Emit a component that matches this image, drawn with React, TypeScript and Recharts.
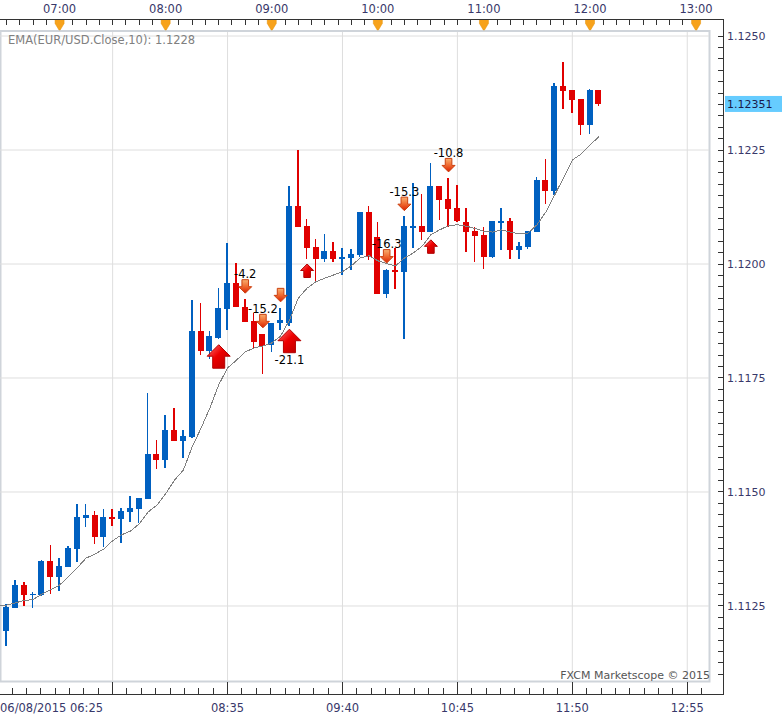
import React from "react";
import {
  ComposedChart,
  Bar,
  Line,
  Scatter,
  XAxis,
  YAxis,
  CartesianGrid,
  ReferenceLine,
} from "recharts";

const BLUE = "#0060c0";
const RED = "#e00000";
const AXIS_TEXT = "#38386a";
const FONT = "DejaVu Sans, Verdana, sans-serif";

// EUR/USD 5 minute bars, first bar opens 06/08/2015 06:25
const SESSION_OPEN = 6 * 60 + 25;
const BAR_MINUTES = 5;

const opens = [
  1.11246, 1.11196, 1.11246, 1.11296, 1.11275, 1.11274, 1.11349, 1.11314, 1.11336, 1.11376,
  1.11444, 1.1145, 1.11402, 1.11445, 1.11441, 1.11457, 1.11463, 1.11485, 1.11583, 1.1157,
  1.11636, 1.11612, 1.11621, 1.11853, 1.1181, 1.11838, 1.11902, 1.11958, 1.11906, 1.11875,
  1.11847, 1.11822, 1.11871, 1.11871, 1.12128, 1.12083, 1.12037, 1.12012, 1.12029, 1.12012,
  1.12013, 1.1202, 1.12114, 1.12059, 1.11934, 1.11987, 1.11982, 1.12081, 1.12083, 1.1207,
  1.12171, 1.12143, 1.12123, 1.12093, 1.12073, 1.12064, 1.12016, 1.12091, 1.12094, 1.12031,
  1.12038, 1.12071, 1.12184, 1.1216, 1.1239, 1.12382, 1.12362, 1.12305, 1.12382,
];

const highs = [
  1.11248, 1.11254, 1.11307, 1.11303, 1.11281, 1.11351, 1.11384, 1.11355, 1.11382, 1.11474,
  1.11474, 1.11458, 1.11463, 1.11463, 1.11465, 1.11491, 1.11487, 1.11717, 1.11614, 1.11669,
  1.11684, 1.11636, 1.11921, 1.11915, 1.11852, 1.11947, 1.12045, 1.12002, 1.11923, 1.11893,
  1.11847, 1.11871, 1.11903, 1.12172, 1.1225, 1.12099, 1.12055, 1.12066, 1.12048, 1.12035,
  1.12033, 1.12114, 1.12127, 1.12093, 1.1199, 1.12035, 1.12105, 1.12178, 1.12154, 1.12221,
  1.12171, 1.12189, 1.12173, 1.12123, 1.12082, 1.12082, 1.12094, 1.12123, 1.12101, 1.12048,
  1.12072, 1.12191, 1.12231, 1.12398, 1.12444, 1.12382, 1.12362, 1.12384, 1.12382,
];

const lows = [
  1.11194, 1.11162, 1.11246, 1.11251, 1.11246, 1.11272, 1.11276, 1.11283, 1.11336, 1.11346,
  1.11423, 1.11387, 1.1138, 1.11426, 1.11389, 1.11435, 1.11433, 1.11485, 1.1155, 1.11553,
  1.11612, 1.11575, 1.11618, 1.118, 1.11791, 1.11835, 1.11855, 1.11905, 1.11873, 1.11815,
  1.11758, 1.11808, 1.11855, 1.11864, 1.12082, 1.12012, 1.11958, 1.12004, 1.12004, 1.11976,
  1.11987, 1.12016, 1.12009, 1.11934, 1.11925, 1.11945, 1.11836, 1.12035, 1.12053, 1.1207,
  1.12096, 1.12082, 1.12093, 1.12027, 1.12005, 1.11988, 1.12014, 1.12031, 1.1201, 1.1201,
  1.12033, 1.12071, 1.12132, 1.12151, 1.1234, 1.12331, 1.12283, 1.12285, 1.12346,
];

const closes = [
  1.11196, 1.11247, 1.11296, 1.11274, 1.11277, 1.11349, 1.11314, 1.11338, 1.11378, 1.11445,
  1.1145, 1.11402, 1.11445, 1.11441, 1.11458, 1.11465, 1.11487, 1.11583, 1.1157, 1.11636,
  1.11612, 1.11623, 1.11853, 1.1181, 1.11842, 1.11903, 1.11959, 1.11905, 1.11873, 1.1183,
  1.11821, 1.1187, 1.11877, 1.12128, 1.12082, 1.12036, 1.12012, 1.12029, 1.12012, 1.12015,
  1.12022, 1.12114, 1.12016, 1.11934, 1.11987, 1.11982, 1.12083, 1.12083, 1.1207, 1.12171,
  1.1214, 1.12121, 1.12094, 1.12071, 1.12062, 1.12016, 1.12094, 1.12094, 1.12031, 1.12039,
  1.12072, 1.12184, 1.1216, 1.1239, 1.1238, 1.1236, 1.12305, 1.12382, 1.12351,
];

// EMA(Close,10) as plotted
const ema10 = [
  1.11251, 1.11252, 1.11257, 1.11262, 1.11264, 1.11276, 1.11286, 1.11296, 1.11314, 1.11334,
  1.11355, 1.11364, 1.11375, 1.11393, 1.11406, 1.11414, 1.1143, 1.11456, 1.11471, 1.11496,
  1.11526, 1.11548, 1.11599, 1.1164, 1.11684, 1.11735, 1.11772, 1.11789, 1.11807, 1.11816,
  1.1182, 1.11827, 1.11842, 1.11877, 1.11925, 1.11947, 1.11961, 1.11969, 1.11976, 1.11983,
  1.11996, 1.12013, 1.12018, 1.12007, 1.12001, 1.11996, 1.12013, 1.12024, 1.12039, 1.12064,
  1.12075, 1.12084, 1.12086, 1.12083, 1.12078, 1.12072, 1.1207, 1.12075, 1.1207, 1.12066,
  1.12068, 1.12086, 1.12114, 1.12151, 1.12189, 1.12228, 1.12241, 1.12261, 1.12279,
];

// trade signals: bar index, price at the arrow tip, P/L label
const signals = [
  { bar: 25, price: 1.11823, dir: "up", big: true, label: "" },
  { bar: 28, price: 1.11936, dir: "down", big: false, label: "-4.2" },
  { bar: 30, price: 1.1186, dir: "down", big: false, label: "-15.2" },
  { bar: 32, price: 1.11917, dir: "down", big: false, label: "" },
  { bar: 33, price: 1.11857, dir: "up", big: true, label: "-21.1" },
  { bar: 35, price: 1.12, dir: "up", big: false, label: "" },
  { bar: 44, price: 1.12002, dir: "down", big: false, label: "-16.3" },
  { bar: 46, price: 1.12117, dir: "down", big: false, label: "-15.3" },
  { bar: 49, price: 1.12053, dir: "up", big: false, label: "" },
  { bar: 51, price: 1.12202, dir: "down", big: false, label: "-10.8" },
];

const topLabels = ["07:00", "08:00", "09:00", "10:00", "11:00", "12:00", "13:00"];
const bottomTimes = ["06:25", "07:30", "08:35", "09:40", "10:45", "11:50", "12:55"];
const bottomLabels = ["06/08/2015 06:25", "", "08:35", "09:40", "10:45", "11:50", "12:55"];
const priceLabels = ["1.1125", "1.1150", "1.1175", "1.1200", "1.1225", "1.1250"];

const X_DOMAIN: [number, number] = [1.3, 402.3];
const Y_DOMAIN: [number, number] = [1.110855, 1.125088];

const toMinutes = (hhmm: string) => {
  const [h, mm] = hhmm.split(":").map(Number);
  return h * 60 + mm - SESSION_OPEN;
};

const rows = opens.map((open, i) => ({
  m: i * BAR_MINUTES,
  open,
  high: highs[i],
  low: lows[i],
  close: closes[i],
  range: [lows[i], highs[i]],
  ema: ema10[i],
}));

const signalPoints = signals.map((s) => ({ ...s, m: s.bar * BAR_MINUTES }));

const topHours = topLabels.map(toMinutes);
const topTicks: number[] = [];
for (let t = topHours[0] - 4 * 7.5; t <= X_DOMAIN[1] + 0.01; t += 7.5) topTicks.push(t);

const bottomMajor = bottomTimes.map(toMinutes);
const bottomTicks: number[] = [];
for (let j = 0; (j * 65) / 8 <= X_DOMAIN[1]; j++) bottomTicks.push((j * 65) / 8);

const priceTicks: number[] = [];
for (let j = 0; j <= 56; j++) priceTicks.push(Number((1.111 + j * 0.00025).toFixed(5)));
const gridPrices = priceLabels.map(Number);

const Candle = (props: any) => {
  const { x, y, width, height, payload } = props;
  const { open, close, high, low } = payload;
  const color = close >= open ? BLUE : RED;
  const perUnit = height / (high - low);
  const yOf = (v: number) => y + (high - v) * perUnit;
  const top = yOf(Math.max(open, close));
  const bottom = yOf(Math.min(open, close));
  const cx = x + width / 2;
  return (
    <g shapeRendering="crispEdges">
      <rect x={cx - 0.75} y={y} width={1.5} height={height} fill={color} />
      <rect x={x} y={top} width={width} height={Math.max(1.5, bottom - top)} fill={color} />
    </g>
  );
};

const SignalMark = (props: any) => {
  const { cx, cy, payload } = props;
  const { dir, big, label, bar } = payload;
  const half = big ? 11.5 : 6.5;
  const shaft = big ? 6 : 3.3;
  const head = big ? 11.5 : 6.5;
  const len = big ? 23.5 : 13.5;
  const sign = dir === "up" ? 1 : -1;
  const pts = [
    [0, 0], [half, head], [shaft, head], [shaft, len],
    [-shaft, len], [-shaft, head], [-half, head],
  ]
    .map(([px, py]) => `${cx + px},${cy + sign * py}`)
    .join(" ");
  const id = `sig-${bar}`;
  return (
    <g>
      <defs>
        {dir === "up" ? (
          <linearGradient id={id} x1="0" y1="0" x2="1" y2="1">
            <stop offset="0%" stopColor="#ff7a7a" />
            <stop offset="45%" stopColor="#ee0000" />
            <stop offset="100%" stopColor="#b00000" />
          </linearGradient>
        ) : (
          <linearGradient id={id} x1="0" y1="0" x2="0" y2="1">
            <stop offset="0%" stopColor="#f8b070" />
            <stop offset="50%" stopColor="#f06a30" />
            <stop offset="100%" stopColor="#d82000" />
          </linearGradient>
        )}
      </defs>
      <polygon
        points={pts}
        fill={`url(#${id})`}
        stroke={dir === "up" ? "#b40000" : "#cc4010"}
        strokeWidth={1}
      />
      {label && (
        <text
          x={cx}
          y={dir === "up" ? cy + len + 11 : cy - len - 1.5}
          textAnchor="middle"
          fontSize={11.5}
          fontFamily={FONT}
          fill="#000"
        >
          {label}
        </text>
      )}
    </g>
  );
};

const TopTick = ({ x, y, payload }: any) => {
  const hour = topHours.findIndex((h) => Math.abs(h - payload.value) < 0.01);
  const base = y - 12.5;
  return (
    <g>
      <line x1={x} x2={x} y1={base} y2={base + 5} stroke="#333" shapeRendering="crispEdges" />
      {hour >= 0 && (
        <>
          <polygon
            points={`${x - 4.5},${base} ${x + 4.5},${base} ${x + 4.5},${base + 4} ${x + 0.6},${base + 10.5} ${x - 0.6},${base + 10.5} ${x - 4.5},${base + 4}`}
            fill="#f7a21b"
            stroke="#e58e00"
            strokeWidth={0.5}
          />
          <text x={x} y={y - 19.5} textAnchor="middle" fontSize={11.5} fontFamily={FONT} fill={AXIS_TEXT}>
            {topLabels[hour]}
          </text>
        </>
      )}
    </g>
  );
};

const BottomTick = ({ x, y, payload }: any) => {
  const idx = bottomMajor.findIndex((v) => Math.abs(v - payload.value) < 0.01);
  const major = idx >= 0;
  return (
    <g>
      <line
        x1={x}
        x2={x}
        y1={major ? y + 1 : y + 7}
        y2={y + 13.5}
        stroke="#333"
        shapeRendering="crispEdges"
      />
      {major && bottomLabels[idx] && (
        <text
          x={idx === 0 ? Math.max(x, 0) : x}
          y={y + 31}
          textAnchor={idx === 0 ? "start" : "middle"}
          fontSize={11.5}
          fontFamily={FONT}
          fill={AXIS_TEXT}
        >
          {bottomLabels[idx]}
        </text>
      )}
    </g>
  );
};

const RightTick = ({ x, y, payload }: any) => {
  const label = priceLabels.find((l) => Math.abs(Number(l) - payload.value) < 1e-7);
  return (
    <g>
      <line x1={x + 9} x2={x + 14.5} y1={y} y2={y} stroke="#333" shapeRendering="crispEdges" />
      {label && (
        <text x={x + 18} y={y + 4} fontSize={11} fontFamily={FONT} fill={AXIS_TEXT}>
          {label}
        </text>
      )}
    </g>
  );
};

const PriceTag = (props: any) => {
  const { viewBox } = props;
  const right = viewBox.x + viewBox.width;
  const y = viewBox.y;
  return (
    <g>
      <rect x={right + 16} y={y - 8} width={60} height={16} fill="#66ccff" />
      <text x={right + 18} y={y + 4} fontSize={11} fontFamily={FONT} fill="#1a1a4a">
        {closes[closes.length - 1].toFixed(5)}
      </text>
    </g>
  );
};

export default function App() {
  return (
    <div
      style={{
        position: "absolute",
        left: 0,
        top: 0,
        width: 782,
        height: 720,
        background: "#fff",
        fontFamily: FONT,
        overflow: "hidden",
      }}
    >
      {/* plot frame behind the chart */}
      <svg width={782} height={720} style={{ position: "absolute", left: 0, top: 0 }}>
        <rect x={0.5} y={31} width={709} height={650.5} fill="none" stroke="#cfd4da" strokeWidth={2} />
      </svg>

      <div style={{ position: "absolute", left: 0, top: 0 }}>
        <ComposedChart
          width={782}
          height={720}
          data={rows}
          margin={{ top: 0, right: 0, bottom: 0, left: 0 }}
        >
          <CartesianGrid
            xAxisId="bottom"
            yAxisId="price"
            stroke="#dedede"
            horizontalValues={gridPrices}
            verticalValues={bottomMajor.slice(1)}
          />
          <XAxis
            xAxisId="top"
            orientation="top"
            dataKey="m"
            type="number"
            domain={X_DOMAIN}
            allowDataOverflow
            ticks={topTicks}
            interval={0}
            height={32}
            tickSize={0}
            tickMargin={0}
            axisLine={false}
            tickLine={false}
            tick={<TopTick />}
          />
          <XAxis
            xAxisId="bottom"
            orientation="bottom"
            dataKey="m"
            type="number"
            domain={X_DOMAIN}
            allowDataOverflow
            ticks={bottomTicks}
            interval={0}
            height={39}
            tickSize={0}
            tickMargin={0}
            axisLine={false}
            tickLine={false}
            tick={<BottomTick />}
          />
          <YAxis
            yAxisId="price"
            orientation="right"
            type="number"
            domain={Y_DOMAIN}
            allowDataOverflow
            ticks={priceTicks}
            interval={0}
            width={73}
            tickSize={0}
            tickMargin={0}
            axisLine={false}
            tickLine={false}
            tick={<RightTick />}
          />
          <Bar
            xAxisId="bottom"
            yAxisId="price"
            dataKey="range"
            barSize={6}
            shape={Candle}
            isAnimationActive={false}
          />
          <Line
            xAxisId="bottom"
            yAxisId="price"
            dataKey="ema"
            type="linear"
            stroke="#808080"
            strokeWidth={1}
            dot={false}
            activeDot={false}
            shapeRendering="crispEdges"
            isAnimationActive={false}
          />
          <Scatter
            xAxisId="bottom"
            yAxisId="price"
            data={signalPoints}
            dataKey="price"
            shape={SignalMark}
            isAnimationActive={false}
          />
          <ReferenceLine
            xAxisId="bottom"
            yAxisId="price"
            y={closes[closes.length - 1]}
            stroke="none"
            label={PriceTag}
          />
        </ComposedChart>
      </div>

      {/* axis baselines and captions */}
      <svg
        width={782}
        height={720}
        style={{ position: "absolute", left: 0, top: 0, pointerEvents: "none" }}
      >
        <g stroke="#333" shapeRendering="crispEdges">
          <line x1={0} x2={724} y1={19.5} y2={19.5} />
          <line x1={723.5} x2={723.5} y1={19} y2={695} />
          <line x1={0} x2={724} y1={694.5} y2={694.5} />
        </g>
        <text x={8} y={43.5} fontSize={11.5} fontFamily={FONT} fill="#808080">
          EMA(EUR/USD.Close,10): 1.1228
        </text>
        <text x={710} y={679} textAnchor="end" fontSize={11} fontFamily={FONT} fill="#555">
          FXCM Marketscope © 2015
        </text>
      </svg>
    </div>
  );
}
